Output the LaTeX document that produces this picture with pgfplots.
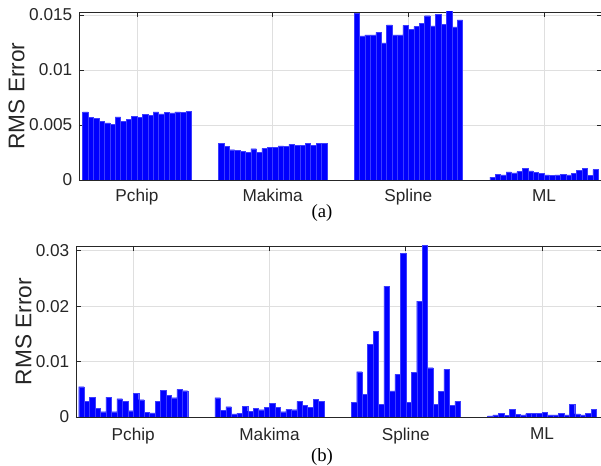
\documentclass[border=0pt]{standalone}
\usepackage{pgfplots}
\pgfplotsset{compat=1.18}
\usepackage{pgfplotstable}
\usepackage{fontspec}
\setmainfont{Liberation Sans}
\newfontfamily\capfont{Liberation Serif}
\definecolor{axc}{RGB}{38,38,38}
\definecolor{gridc}{RGB}{223,223,223}
\definecolor{barfill}{RGB}{0,0,255}
\definecolor{baredge}{RGB}{60,60,255}

\pgfplotstableread{
pchip makima spline ml
0.00619 0.00335 0.01515 0.00027
0.00570 0.00305 0.01310 0.00052
0.00558 0.00275 0.01319 0.00046
0.00534 0.00268 0.01319 0.00073
0.00520 0.00262 0.01341 0.00064
0.00503 0.00253 0.01246 0.00076
0.00573 0.00284 0.01410 0.00107
0.00534 0.00253 0.01319 0.00082
0.00550 0.00287 0.01319 0.00067
0.00576 0.00296 0.01405 0.00058
0.00570 0.00299 0.01368 0.00046
0.00595 0.00311 0.01395 0.00040
0.00589 0.00305 0.01426 0.00046
0.00620 0.00323 0.01493 0.00052
0.00600 0.00314 0.01400 0.00046
0.00613 0.00317 0.01505 0.00061
0.00610 0.00335 0.01414 0.00088
0.00620 0.00314 0.01540 0.00107
0.00616 0.00332 0.01392 0.00040
0.00622 0.00332 0.01456 0.00095
}\dataA

\pgfplotstableread{
pchip makima spline ml
0.00546 0.00348 0.00264 0.00018
0.00288 0.00126 0.00817 0.00036
0.00360 0.00186 0.00408 0.00066
0.00156 0.00054 0.01310 0.00024
0.00096 0.00066 0.01550 0.00138
0.00360 0.00198 0.00234 0.00048
0.00096 0.00108 0.02360 0.00036
0.00330 0.00156 0.00469 0.00060
0.00288 0.00132 0.00769 0.00060
0.00114 0.00180 0.02950 0.00060
0.00426 0.00246 0.00264 0.00084
0.00312 0.00174 0.00805 0.00036
0.00078 0.00096 0.02090 0.00036
0.00072 0.00138 0.03100 0.00066
0.00288 0.00132 0.00889 0.00036
0.00486 0.00282 0.00234 0.00228
0.00390 0.00216 0.00457 0.00054
0.00348 0.00174 0.00859 0.00036
0.00500 0.00318 0.00216 0.00060
0.00474 0.00282 0.00282 0.00138
}\dataB

\pgfplotsset{
  mystyle/.style={
    scale only axis,
    anchor=south west,
    axis line style={axc, line width=0.5pt},
    tick style={axc, line width=0.5pt},
    major tick length=3.5pt,
    tick align=inside,
    grid=major,
    major grid style={gridc, line width=0.5pt},
    xtick={1,2,3,4},
    xticklabels={Pchip,Makima,Spline,ML},
    ymin=0,
    scaled y ticks=false,
    tick label style={font=\fontsize{12.9}{14}\selectfont, text=axc},
    ylabel={RMS Error},
    ylabel style={font=\fontsize{17}{18}\selectfont, text=axc, at={(rel axis cs:0,0.5)}, anchor=center},
    clip=true,
  },
  mybar/.style={ybar, bar width=0.04, bar shift=0pt, fill=barfill, draw=baredge, line width=0.25pt},
}

\begin{document}
\begin{tikzpicture}
\path[use as bounding box] (0pt,0pt) rectangle (450.75pt,349.5pt);

\begin{axis}[mystyle,
  at={(59.25pt,214.5pt)}, width=392.25pt, height=126pt,
  xmin=0.573, xmax=4.427, ymax=0.01527,
  ytick={0,0.005,0.01,0.015},
  yticklabels={0,0.005,0.01,0.015},
  xticklabel style={yshift=-3.5pt},
  yticklabel style={xshift=-1.5pt},
  ylabel style={yshift=46.9pt},
]
\addplot[mybar] table[x expr={0.58+0.04*(\coordindex+1)}, y=pchip] {\dataA};
\addplot[mybar] table[x expr={1.58+0.04*(\coordindex+1)}, y=makima] {\dataA};
\addplot[mybar] table[x expr={2.58+0.04*(\coordindex+1)}, y=spline] {\dataA};
\addplot[mybar] table[x expr={3.58+0.04*(\coordindex+1)}, y=ml] {\dataA};
\end{axis}

\begin{axis}[mystyle,
  at={(57pt,36.75pt)}, width=394.5pt, height=128.25pt,
  xmin=0.58, xmax=4.44, ymax=0.03085,
  ytick={0,0.01,0.02,0.03},
  yticklabels={0,0.01,0.02,0.03},
  xticklabel style={yshift=-4.5pt},
  yticklabel style={xshift=-1.5pt},
  ylabel style={yshift=39.4pt},
]
\addplot[mybar] table[x expr={0.58+0.04*(\coordindex+1)}, y=pchip] {\dataB};
\addplot[mybar] table[x expr={1.58+0.04*(\coordindex+1)}, y=makima] {\dataB};
\addplot[mybar] table[x expr={2.58+0.04*(\coordindex+1)}, y=spline] {\dataB};
\addplot[mybar] table[x expr={3.58+0.04*(\coordindex+1)}, y=ml] {\dataB};
\end{axis}

\node[font=\capfont\fontsize{14}{16}\selectfont] at (241.5pt,189.75pt) {(a)};
\node[font=\capfont\fontsize{14}{16}\selectfont] at (241.5pt,6.75pt) {(b)};
\end{tikzpicture}
\end{document}
